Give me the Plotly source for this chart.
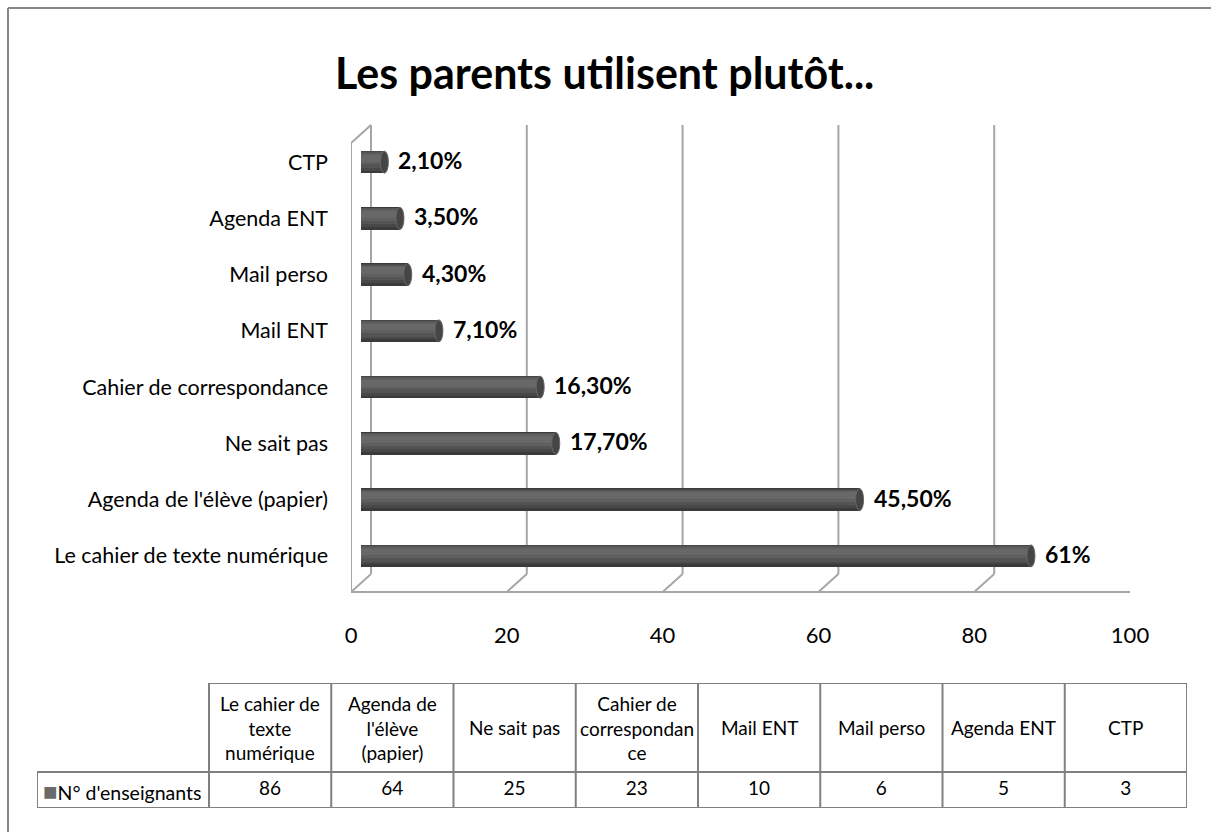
import plotly.graph_objects as go

W, H = 1211, 832

# ---- data ----
categories = ["Le cahier de texte numérique", "Agenda de l'élève (papier)", "Ne sait pas",
              "Cahier de correspondance", "Mail ENT", "Mail perso", "Agenda ENT", "CTP"]
counts = [86, 64, 25, 23, 10, 6, 5, 3]
pct_labels = ["61%", "45,50%", "17,70%", "16,30%", "7,10%", "4,30%", "3,50%", "2,10%"]
table_headers = ["Le cahier de<br>texte<br>numérique", "Agenda de<br>l'élève<br>(papier)", "Ne sait pas",
                 "Cahier de<br>correspondan<br>ce", "Mail ENT", "Mail perso", "Agenda ENT", "CTP"]
series_name = "N° d'enseignants"
x_ticks = [0, 20, 40, 60, 80, 100]
title_text = "Les parents utilisent plutôt..."

FONT = "Lato"
GRID = "#a6a6a6"

def py(p):  # pixel y -> paper
    return 1 - p / H

def px(p):
    return p / W

fig = go.Figure()

# cylinder-like bars: several overlaid layers (dark bottom, lighter upper middle)
layers = [(0.0, 0.40, "#3a3a3a"), (0.02, 0.34, "#484848"), (0.04, 0.28, "#545454"),
          (0.06, 0.20, "#5f5f5f"), (0.07, 0.12, "#686868")]
for c, w, col in layers:
    fig.add_trace(go.Bar(x=counts, y=categories, orientation="h", width=w, offset=c - w / 2,
                         marker=dict(color=col, line=dict(width=0)), hoverinfo="skip",
                         showlegend=False, xaxis="x", yaxis="y"))

# invisible trace for the front tick axis
fig.add_trace(go.Scatter(x=[None], y=[None], xaxis="x2", yaxis="y4", showlegend=False, hoverinfo="skip"))

# table values
n = len(categories)
fig.add_trace(go.Scatter(x=[i + 0.5 for i in range(n)], y=[18] * n, mode="text",
                         text=[str(v) for v in counts],
                         textfont=dict(family=FONT, size=19, color="black"),
                         showlegend=False, hoverinfo="skip", xaxis="x3", yaxis="y3"))

shapes = []
# outer frame
shapes.append(dict(type="line", xref="paper", yref="paper", x0=px(8), x1=px(8), y0=py(8), y1=0,
                   line=dict(color="#868686", width=2)))
shapes.append(dict(type="line", xref="paper", yref="paper", x0=px(8), x1=1, y0=py(8), y1=py(8),
                   line=dict(color="#868686", width=2)))

# 3D walls (front axis = x2, back wall offset by +20px / -18px)
DX, DY = 20, 18
for v in x_ticks:
    shapes.append(dict(type="line", xref="x2", xsizemode="pixel", xanchor=v, x0=DX, x1=DX,
                       yref="paper", y0=py(592 - DY), y1=py(143 - DY), line=dict(color=GRID, width=2),
                       layer="below"))
    shapes.append(dict(type="line", xref="x2", xsizemode="pixel", xanchor=v, x0=0, x1=DX,
                       yref="paper", y0=py(592), y1=py(592 - DY), line=dict(color=GRID, width=2),
                       layer="below"))
shapes.append(dict(type="line", xref="x2", x0=0, x1=100, yref="paper", y0=py(592), y1=py(592),
                   line=dict(color=GRID, width=2), layer="below"))
shapes.append(dict(type="line", xref="x2", x0=0, x1=0, yref="paper", y0=py(592), y1=py(143),
                   line=dict(color=GRID, width=2), layer="below"))
shapes.append(dict(type="line", xref="x2", xsizemode="pixel", xanchor=0, x0=0, x1=DX,
                   yref="paper", y0=py(143), y1=py(143 - DY), line=dict(color=GRID, width=2),
                   layer="below"))

# cylinder end caps, anchored on the data values
for i, v in enumerate(counts):
    shapes.append(dict(type="circle", xref="x", xsizemode="pixel", xanchor=0, x0=-4, x1=4,
                       yref="y", ysizemode="pixel", yanchor=i, y0=-11, y1=11,
                       fillcolor="#4e4e4e", line=dict(width=0), layer="below"))
    shapes.append(dict(type="circle", xref="x", xsizemode="pixel", xanchor=v, x0=-4, x1=4,
                       yref="y", ysizemode="pixel", yanchor=i, y0=-11, y1=11,
                       fillcolor="#454545", line=dict(color="#666666", width=1)))

# table grid (x3: column units, y3: pixel-ish units)
TC = "#808080"
first_w = 172 / 122.26
for yv, x0 in [(0, -first_w), (36, -first_w), (125, 0)]:
    shapes.append(dict(type="line", xref="x3", yref="y3", x0=x0, x1=n, y0=yv, y1=yv,
                       line=dict(color=TC, width=2)))
shapes.append(dict(type="line", xref="x3", yref="y3", x0=-first_w, x1=-first_w, y0=0, y1=36,
                   line=dict(color=TC, width=2)))
for i in range(n + 1):
    shapes.append(dict(type="line", xref="x3", yref="y3", x0=i, x1=i, y0=0, y1=125,
                       line=dict(color=TC, width=2)))

annotations = [dict(text=title_text, xref="paper", yref="paper", x=px(604), y=py(72),
                    showarrow=False, font=dict(family=FONT, size=43, color="black", weight="bold"),
                    xanchor="center", yanchor="middle")]
# percentage labels next to bars
for v, cat, lab in zip(counts, categories, pct_labels):
    annotations.append(dict(text=lab, xref="x", yref="y", x=v, y=cat, xanchor="left", yanchor="middle",
                            xshift=12, yshift=2, showarrow=False,
                            font=dict(family=FONT, size=23, color="black", weight="bold")))
for i, h in enumerate(table_headers):
    annotations.append(dict(text=h, xref="x3", yref="y3", x=i + 0.5, y=80.5, showarrow=False,
                            font=dict(family=FONT, size=19, color="black"), align="center",
                            xanchor="center", yanchor="middle"))
annotations.append(dict(text="<span style='color:#6a6a6a;font-size:24px'>■</span>" + series_name,
                        xref="x3", yref="y3", x=-first_w, y=18, xshift=4, showarrow=False,
                        font=dict(family=FONT, size=19.5, color="black"), xanchor="left", yanchor="middle"))

fig.update_layout(
    width=W, height=H, margin=dict(l=0, r=0, t=0, b=0, pad=0), autosize=False,
    paper_bgcolor="white", plot_bgcolor="rgba(0,0,0,0)",
    barmode="overlay", bargap=0,
    font=dict(family=FONT, color="black"),
    xaxis=dict(domain=[px(361), px(1140)], range=[0, 100], visible=False, fixedrange=True, automargin=False),
    yaxis=dict(domain=[py(584), py(134)], type="category", categoryorder="array", categoryarray=categories,
               showgrid=False, showline=False, ticks="", zeroline=False, automargin=False,
               tickfont=dict(family=FONT, size=21.5, color="black"), ticklabelstandoff=32, anchor="x"),
    xaxis2=dict(domain=[px(351), px(1130)], range=[0, 100], anchor="free", position=py(592),
                tickvals=x_ticks, showgrid=False, showline=False, zeroline=False, ticks="", automargin=False,
                tickfont=dict(family=FONT, size=22, color="black"), ticklabelstandoff=28),
    yaxis4=dict(domain=[py(592), py(143)], range=[0, 1], visible=False, anchor="x2", automargin=False),
    xaxis3=dict(domain=[px(37), px(1187)], range=[-first_w, n], visible=False, anchor="y3", automargin=False),
    yaxis3=dict(domain=[py(808), py(683)], range=[0, 125], visible=False, anchor="x3", automargin=False),
    shapes=shapes, annotations=annotations,
)

fig.write_html("out.html", config={"displayModeBar": False},
               post_script="document.body.style.margin='0';document.body.style.overflow='hidden';")
